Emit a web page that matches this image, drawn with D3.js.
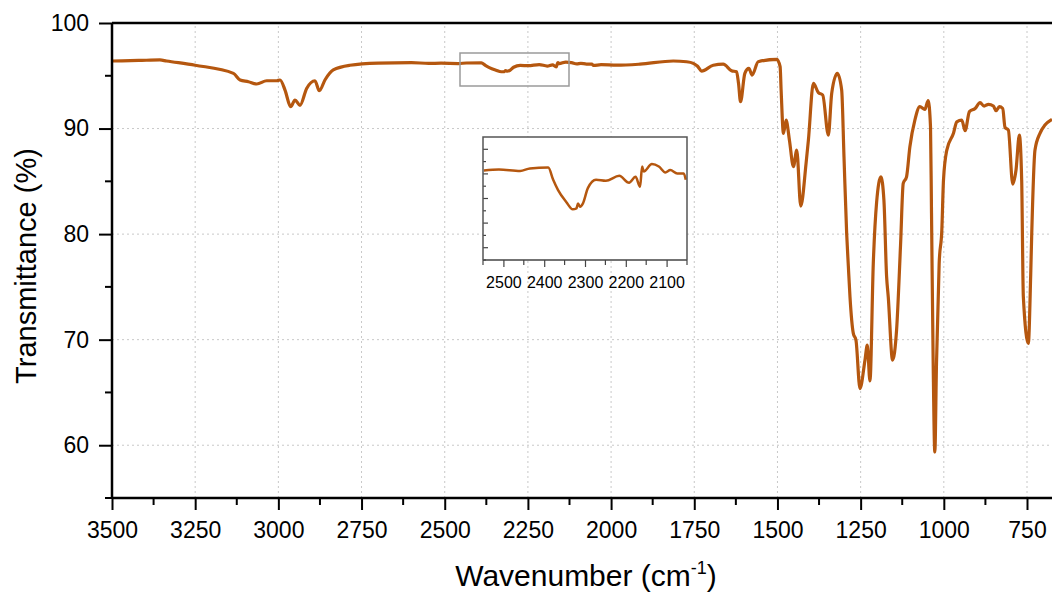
<html>
<head>
<script src="https://d3js.org/d3.v7.min.js"></script>
<style>
  body { margin: 0; background: white; }
  svg { font-family: "Liberation Sans", Arial, sans-serif; }
</style>
</head>
<body>
<svg id="chart" width="1052" height="596"></svg>
<script>
// wavenumber (cm-1) / transmittance (%)
const wavenumber = [3500, 3420, 3356, 3336, 3250, 3135, 3115, 3090, 3065, 3035, 3005, 2995, 2980, 2963, 2950,
  2935, 2915, 2890, 2877, 2860, 2835, 2785, 2700, 2600,
  2548, 2511, 2459, 2435, 2390, 2378, 2366, 2346, 2330, 2321, 2317, 2312, 2305, 2293, 2273, 2249, 2216,
  2192, 2176, 2165, 2160, 2156, 2136, 2119, 2103, 2091, 2074, 2058, 2053,
  2030, 1983, 1913, 1813, 1773, 1753, 1740, 1728, 1693, 1663, 1638, 1623, 1617, 1611, 1598, 1586, 1576, 1558,
  1502, 1492, 1489, 1482, 1474, 1464, 1452, 1442, 1430, 1414, 1407, 1392, 1377, 1364, 1347, 1337, 1320,
  1307, 1300, 1292, 1287, 1282, 1272, 1264, 1252, 1237, 1230, 1222, 1212, 1202, 1189, 1180, 1172, 1167,
  1154, 1142, 1130, 1122, 1112, 1102, 1087, 1072, 1057, 1047, 1040, 1037, 1032, 1027, 1022, 1014, 1006,
  1001, 991, 971, 961, 946, 936, 923, 906, 891, 879, 866, 851, 843, 833, 823, 816, 806, 793, 783, 773,
  766, 761, 746, 739, 736, 726, 711, 696, 675];
const transmittance = [96.4, 96.45, 96.5, 96.4, 96.0, 95.23, 94.6, 94.44, 94.22, 94.53, 94.53, 94.6, 93.65, 92.07, 92.7,
  92.2, 93.8, 94.53, 93.58, 94.6, 95.55, 96.0, 96.2, 96.25,
  96.17, 96.19, 96.16, 96.21, 96.23, 95.98, 95.77, 95.53, 95.38, 95.4, 95.5, 95.43, 95.5, 95.81, 95.98, 95.96, 96.06,
  95.92, 96.04, 95.84, 96.25, 96.15, 96.3, 96.25, 96.13, 96.18, 96.11, 96.11, 95.98,
  96.05, 96.0, 96.1, 96.4, 96.33, 96.18, 95.9, 95.45, 96.0, 96.1, 95.48, 95.38, 94.28, 92.54, 95.23, 95.7, 95.07, 96.33,
  96.56, 95.86, 93.65, 89.55, 90.8, 88.9, 86.4, 87.96, 82.65, 86.7, 88.9, 94.28, 93.4, 93.18, 89.38, 93.33, 95.23,
  93.65, 87.3, 80.07, 77.0, 74.06, 70.6, 69.95, 65.37, 68.06, 69.48, 66.09, 77.2, 83.0, 85.43, 83.2, 76.0, 74.06,
  68.06, 70.9, 79.0, 84.8, 85.43, 88.28, 90.8, 92.07, 91.82, 92.64, 90.17, 82.0, 67.77, 59.36, 67.74, 77.2, 80.38,
  85.12, 87.96, 89.55, 90.64, 90.8, 89.8, 91.6, 91.9, 92.45, 92.13, 92.3, 92.13, 91.69, 92.07, 91.9, 90.1, 89.86, 84.74, 86.07, 89.38,
  85.12, 74.06, 69.64, 76.0, 79.74, 87.96, 89.55, 90.33, 90.87];

const xTicks = [3500, 3250, 3000, 2750, 2500, 2250, 2000, 1750, 1500, 1250, 1000, 750];
const yTicks = [60, 70, 80, 90, 100];
const insetXTicks = [2500, 2400, 2300, 2200, 2100];
const insetRange = [2550, 2050];

const lineColor = "#b5570f";
const svg = d3.select("#chart");

const x = d3.scaleLinear().domain([3500, 750]).range([112, 1027]);
const y = d3.scaleLinear().domain([55, 100]).range([498, 23]);

const points = wavenumber.map((w, i) => [w, transmittance[i]]);

svg.append("clipPath").attr("id", "plotclip")
  .append("rect").attr("x", 112).attr("y", 23).attr("width", 940).attr("height", 475);

// grid
const grid = svg.append("g").attr("stroke", "#c8c8c8").attr("stroke-width", 1).attr("stroke-dasharray", "2,3");
grid.selectAll(".gx").data(xTicks.slice(1)).join("line")
  .attr("x1", d => x(d)).attr("x2", d => x(d)).attr("y1", y(55)).attr("y2", y(100));
grid.selectAll(".gy").data(yTicks.slice(0, -1)).join("line")
  .attr("x1", 112).attr("x2", 1052).attr("y1", d => y(d)).attr("y2", d => y(d));

// main spectrum
const line = d3.line().x(d => x(d[0])).y(d => y(d[1])).curve(d3.curveMonotoneX);
svg.append("path").datum(points)
  .attr("clip-path", "url(#plotclip)")
  .attr("fill", "none").attr("stroke", lineColor).attr("stroke-width", 3.2)
  .attr("stroke-linejoin", "round").attr("d", line);

// axes
const xAxis = d3.axisBottom(x).tickValues(xTicks).tickSize(12).tickPadding(12).tickFormat(d3.format("d"));
const gx = svg.append("g").attr("transform", "translate(0,498)").call(xAxis);
const xMinor = d3.range(3375, 600, -250);
gx.selectAll(".minor").data(xMinor).join("line").attr("class", "minor")
  .attr("x1", d => x(d)).attr("x2", d => x(d)).attr("y1", 0).attr("y2", 7).attr("stroke", "black").attr("stroke-width", 2);

const yAxis = d3.axisLeft(y).tickValues(yTicks).tickSize(13).tickPadding(10);
const gy = svg.append("g").attr("transform", "translate(112,0)").call(yAxis);
gy.selectAll(".minor").data([55, 65, 75, 85, 95]).join("line").attr("class", "minor")
  .attr("x1", 0).attr("x2", -7).attr("y1", d => y(d)).attr("y2", d => y(d)).attr("stroke", "black").attr("stroke-width", 2);

[gx, gy].forEach(g => {
  g.select(".domain").attr("stroke-width", 2.5);
  g.selectAll(".tick line").attr("stroke-width", 2);
  g.selectAll(".tick text").attr("font-size", 23).attr("fill", "#000").attr("font-family", "Liberation Sans, Arial, sans-serif");
});
gy.select(".domain").attr("d", "M0,498V23");
gx.select(".domain").attr("d", "M112,0H1052");

// top frame
svg.append("line").attr("x1", 112).attr("x2", 1052).attr("y1", 23).attr("y2", 23)
  .attr("stroke", "black").attr("stroke-width", 2.5);

// axis titles
svg.append("text").attr("transform", "translate(36,266) rotate(-90)")
  .attr("text-anchor", "middle").attr("font-size", 29).text("Transmittance (%)");
const xt = svg.append("text").attr("x", 586).attr("y", 586).attr("text-anchor", "middle").attr("font-size", 30);
xt.append("tspan").text("Wavenumber (cm");
xt.append("tspan").attr("font-size", 18).attr("dy", -12).text("-1");
xt.append("tspan").attr("dy", 12).text(")");

// zoom marker box
svg.append("rect").attr("x", 460).attr("y", 53).attr("width", 109).attr("height", 33)
  .attr("fill", "none").attr("stroke", "#9a9a9a").attr("stroke-width", 1.5);

// inset
const ix = d3.scaleLinear().domain(insetRange).range([483, 687]);
const iy = d3.scaleLinear().domain([94.35, 96.85]).range([260, 137]);
const insetPts = points.filter(p => p[0] <= 2550 && p[0] >= 2050);
svg.append("clipPath").attr("id", "insetclip")
  .append("rect").attr("x", 483).attr("y", 137).attr("width", 204).attr("height", 123);
svg.append("rect").attr("x", 483).attr("y", 137).attr("width", 204).attr("height", 123).attr("fill", "white");
const iline = d3.line().x(d => ix(d[0])).y(d => iy(d[1])).curve(d3.curveMonotoneX);
svg.append("path").datum(insetPts).attr("clip-path", "url(#insetclip)")
  .attr("fill", "none").attr("stroke", lineColor).attr("stroke-width", 2.5).attr("d", iline);

const gix = svg.append("g").attr("transform", "translate(0,260)")
  .call(d3.axisBottom(ix).tickValues(insetXTicks).tickSize(7).tickPadding(10).tickFormat(d3.format("d")));
gix.selectAll(".minor").data([2550, 2450, 2350, 2250, 2150, 2050]).join("line").attr("class", "minor")
  .attr("x1", d => ix(d)).attr("x2", d => ix(d)).attr("y1", 0).attr("y2", 5).attr("stroke", "#444").attr("stroke-width", 1.2);
gix.selectAll(".tick line").attr("stroke", "#444").attr("stroke-width", 1.2);
gix.select(".domain").attr("stroke", "#444").attr("stroke-width", 1.5).attr("d", "M483,0H687");
gix.selectAll(".tick text").attr("font-size", 16).attr("fill", "#000").attr("font-family", "Liberation Sans, Arial, sans-serif");

const iyTicks = d3.range(94.35, 96.85, 0.25);
svg.append("g").selectAll("line").data(iyTicks).join("line")
  .attr("x1", 483).attr("x2", (d, i) => 483 + (i % 2 ? 5 : 3))
  .attr("y1", d => iy(d)).attr("y2", d => iy(d)).attr("stroke", "#444").attr("stroke-width", 1.2);
svg.append("path").attr("d", "M483,260V137H687V260").attr("fill", "none")
  .attr("stroke", "#555").attr("stroke-width", 1.5);
</script>
</body>
</html>
